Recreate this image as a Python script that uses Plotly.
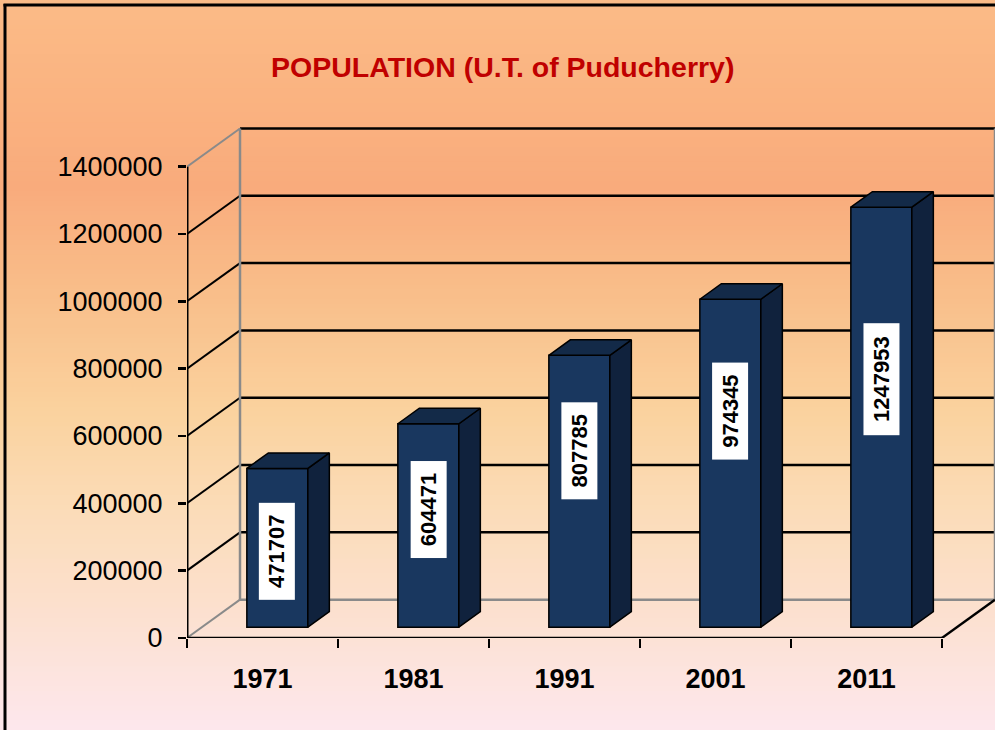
import plotly.graph_objects as go

# ---------------- data ----------------
years = ["1971", "1981", "1991", "2001", "2011"]
population = [471707, 604471, 807785, 974345, 1247953]
y_tick_values = [0, 200000, 400000, 600000, 800000, 1000000, 1200000, 1400000]
chart_title = "POPULATION (U.T. of Puducherry)"

# ---------------- styling / geometry ----------------
W, H = 995, 745
X0_PX, Y0_PX = 187, 651            # pixel position of the front-bottom-left corner
PX_PER_CAT = 151.0                 # pixels per category
PX_PER_VAL = 68.7 / 200000.0       # pixels per value unit
DX = 53 / PX_PER_CAT               # wall depth (x, category units)
DY = 39 / PX_PER_VAL               # wall depth (y, value units)
XMAX = (W - X0_PX) / PX_PER_CAT
YMAX = (Y0_PX - 100) / PX_PER_VAL

BAR_FRONT = 0.28                   # depth fraction of bar front face
BAR_DEPTH = 21.5 / 53              # depth fraction of bar
BAR_W = 61 / PX_PER_CAT
LABEL_POS = [0.48, 0.58, 0.65, 0.66, 0.59]   # label centre as share of bar height

FRONT_C = "#19375F"
SIDE_C = "#10223D"
TOP_C = "#132A48"
GRID_GRAY = "#8A8A8A"
FONT = "Arial, Liberation Sans, sans-serif"

n = len(years)
ncat = n

fig = go.Figure()

# ---------------- background gradient (paper shapes) ----------------
stops = [
    (0, (251, 187, 135)),
    (110, (250, 178, 128)),
    (190, (249, 171, 124)),
    (300, (249, 190, 138)),
    (420, (250, 210, 158)),
    (520, (251, 220, 184)),
    (620, (252, 224, 206)),
    (745, (253, 231, 237)),
]


def col_at(ypx):
    for (y1, c1), (y2, c2) in zip(stops[:-1], stops[1:]):
        if y1 <= ypx <= y2:
            t = (ypx - y1) / (y2 - y1)
            return "rgb(%d,%d,%d)" % tuple(round(a + (b - a) * t) for a, b in zip(c1, c2))
    return "rgb(%d,%d,%d)" % stops[-1][1]


shapes = []
STRIP = 5
for top in range(0, H, STRIP):
    bot = min(H, top + STRIP + 1)
    shapes.append(dict(type="rect", xref="paper", yref="paper", layer="below",
                       x0=0, x1=1, y0=1 - bot / H, y1=1 - top / H,
                       fillcolor=col_at(top + STRIP / 2), line=dict(width=0)))

# frame border (left and top edges visible)
shapes.append(dict(type="line", xref="paper", yref="paper", layer="below",
                   x0=5 / W, x1=5 / W, y0=0, y1=1 - 4 / H,
                   line=dict(color="black", width=3)))
shapes.append(dict(type="line", xref="paper", yref="paper", layer="below",
                   x0=3.5 / W, x1=1, y0=1 - 5 / H, y1=1 - 5 / H,
                   line=dict(color="black", width=3)))


def seg(x0, y0, x1, y1, color="black", width=2, layer="below"):
    shapes.append(dict(type="line", xref="x", yref="y", layer=layer,
                       x0=x0, y0=y0, x1=x1, y1=y1,
                       line=dict(color=color, width=width)))


# walls / gridlines
top_val = y_tick_values[-1]
for v in y_tick_values:
    if v == 0:
        seg(DX, DY, ncat + DX, DY, GRID_GRAY, 2.5)
        seg(0, 0, DX, DY, GRID_GRAY, 2)
    elif v == top_val:
        seg(DX, v + DY, ncat + DX, v + DY, "black", 2.5)
        seg(0, v, DX, v + DY, GRID_GRAY, 2)
    else:
        seg(DX, v + DY, ncat + DX, v + DY, "black", 2.5)
        seg(0, v, DX, v + DY, "black", 2)
seg(DX, DY, DX, top_val + DY, GRID_GRAY, 2.5)
seg(ncat + DX, DY, ncat + DX, top_val + DY, GRID_GRAY, 2.5)
# floor front & right edges, front value axis
seg(0, 0, ncat, 0, "black", 2.5)
seg(ncat, 0, ncat + DX, DY, "black", 2.5)
seg(0, 0, 0, top_val, "black", 3)

# ---------------- bars ----------------
fx = BAR_FRONT * DX
fy = BAR_FRONT * DY
bx = BAR_DEPTH * DX
by = BAR_DEPTH * DY
centers = [i + 0.5 + fx for i in range(n)]

fig.add_trace(go.Bar(
    x=centers, y=population, base=fy, width=BAR_W,
    marker=dict(color=FRONT_C, line=dict(color="black", width=1.5)),
    hoverinfo="skip", showlegend=False,
))

side_x, side_y, top_x, top_y = [], [], [], []
for c, v in zip(centers, population):
    xl, xr = c - BAR_W / 2, c + BAR_W / 2
    b, t = fy, fy + v
    side_x += [xr, xr + bx, xr + bx, xr, xr, None]
    side_y += [b, b + by, t + by, t, b, None]
    top_x += [xl, xl + bx, xr + bx, xr, xl, None]
    top_y += [t, t + by, t + by, t, t, None]

fig.add_trace(go.Scatter(x=side_x, y=side_y, mode="lines", fill="toself",
                         fillcolor=SIDE_C, line=dict(color="black", width=1.5),
                         hoverinfo="skip", showlegend=False))
fig.add_trace(go.Scatter(x=top_x, y=top_y, mode="lines", fill="toself",
                         fillcolor=TOP_C, line=dict(color="black", width=1.5),
                         hoverinfo="skip", showlegend=False))

annotations = []
for c, v, p in zip(centers, population, LABEL_POS):
    txt = str(v)
    annotations.append(dict(
        x=c, y=fy + v * p, xref="x", yref="y", text="<b>%s</b>" % txt,
        showarrow=False, textangle=-90, bgcolor="white",
        font=dict(family=FONT, size=22, color="black"),
        width=15 * len(txt) + 4, height=33, borderpad=1,
    ))

annotations.append(dict(
    x=502 / W, y=1 - 68 / H, xref="paper", yref="paper", xanchor="center", yanchor="middle",
    text="<b>%s</b>" % chart_title, showarrow=False,
    font=dict(family=FONT, size=28.5, color="#C00000"),
))

fig.update_layout(
    width=W, height=H,
    margin=dict(l=0, r=0, t=0, b=0),
    paper_bgcolor="rgba(0,0,0,0)", plot_bgcolor="rgba(0,0,0,0)",
    shapes=shapes, annotations=annotations,
    bargap=0, showlegend=False,
    xaxis=dict(
        domain=[X0_PX / W, 1], range=[0, XMAX], showgrid=False, zeroline=False,
        showline=False, tickmode="array",
        tickvals=[i + 0.5 for i in range(n)],
        ticktext=["<b>%s</b>" % y for y in years],
        ticks="", ticklabelstandoff=22,
        tickfont=dict(family=FONT, size=27, color="black"),
        minor=dict(tickmode="array", tickvals=list(range(ncat + 1)), ticks="outside",
                   ticklen=9, tickwidth=2.5, tickcolor="black", showgrid=False),
        fixedrange=True,
    ),
    yaxis=dict(
        domain=[(H - Y0_PX) / H, (H - 100) / H], range=[0, YMAX], showgrid=False,
        zeroline=False, showline=False, tickmode="array", tickvals=y_tick_values,
        ticktext=[str(v) for v in y_tick_values],
        ticks="outside", ticklen=8, tickwidth=2.5, tickcolor="black",
        ticklabelstandoff=10,
        tickfont=dict(family=FONT, size=27, color="black"),
        fixedrange=True,
    ),
)

fig.write_html(
    "out.html",
    config={"displayModeBar": False, "staticPlot": True},
    post_script="document.body.style.margin='0';document.body.style.overflow='hidden';",
)
